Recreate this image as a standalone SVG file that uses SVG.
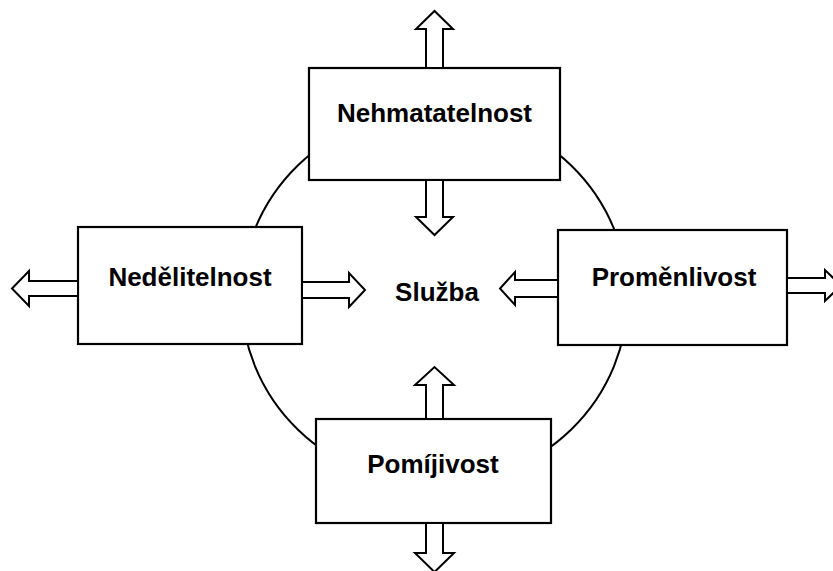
<svg xmlns="http://www.w3.org/2000/svg" width="833" height="571" viewBox="0 0 833 571">
<style>
.box{fill:#fff;stroke:#000;stroke-width:2.2}
.arr{fill:#fff;stroke:#000;stroke-width:2;stroke-linejoin:miter}
.lbl{font-family:"Liberation Sans",Arial,sans-serif;font-weight:bold;font-size:26px;fill:#000;text-anchor:middle}
</style>
<rect width="833" height="571" fill="#fff"/>
<ellipse id="circle" cx="434.5" cy="297.5" rx="193" ry="187" fill="none" stroke="#000" stroke-width="2"/>
<g id="center"><text class="lbl" x="437" y="301">Služba</text></g>
<g id="n-top"><rect class="box" x="309" y="68" width="251" height="112"/><text class="lbl" x="434.5" y="122">Nehmatatelnost</text></g>
<g id="n-left"><rect class="box" x="78" y="227" width="224" height="117"/><text class="lbl" x="190" y="286">Nedělitelnost</text></g>
<g id="n-right"><rect class="box" x="558" y="230" width="229" height="115"/><text class="lbl" x="674" y="286">Proměnlivost</text></g>
<g id="n-bottom"><rect class="box" x="316" y="419" width="235" height="104"/><text class="lbl" x="433" y="473">Pomíjivost</text></g>
<g id="connectors">
<polygon class="arr" points="426,68 426,29 416,29 434.5,11 453,29 443,29 443,68"/>
<polygon class="arr" points="426,180 426,217 416,217 434.5,235 453,217 443,217 443,180"/>
<polygon class="arr" points="426,419 426,385 415,385 434.5,367 454,385 443,385 443,419"/>
<polygon class="arr" points="426,523 426,553 415,553 434.5,572 454,553 443,553 443,523"/>
<polygon class="arr" points="78,281 29,281 29,271 12,288.5 29,306 29,296 78,296"/>
<polygon class="arr" points="302,282 349,282 349,273 365,290 349,307 349,298 302,298"/>
<polygon class="arr" points="558,280 515,280 515,272 500,288.5 515,305 515,297 558,297"/>
<polygon class="arr" points="787,278 825,278 825,270 841,285.5 825,301 825,293 787,293"/>
</g>
</svg>
